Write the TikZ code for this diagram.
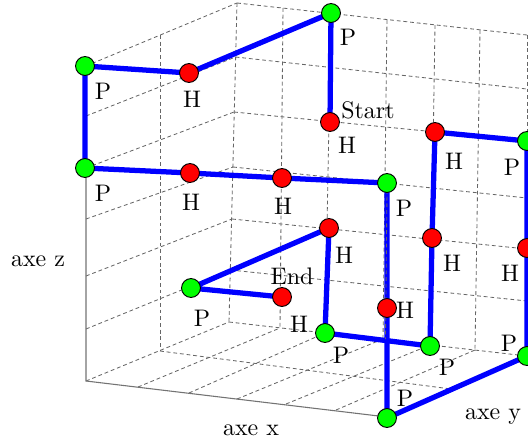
\documentclass[tikz,border=0pt]{standalone}
\begin{document}
\begin{tikzpicture}[x=0.418pt,y=-0.418pt,
  gridline/.style={draw=black!60, dash pattern=on 1.6pt off 1.2pt, line width=0.35pt},
  axisline/.style={draw=black!55, line width=0.45pt},
  chain/.style={draw=blue, line width=2.2pt, line join=round},
  hnode/.style={circle, fill=red, draw=black, line width=0.4pt, minimum size=7.9pt, inner sep=0pt},
  pnode/.style={circle, fill=green, draw=black, line width=0.4pt, minimum size=7.9pt, inner sep=0pt},
  lbl/.style={inner sep=0pt, font=\normalsize}]
\useasboundingbox (0,0) rectangle (528,444);
\clip (0,0) rectangle (528,444);
% ---------------- left wall (x = 0)
\foreach \fy/\bx/\by in {381/229/322, 329/230.5/270, 276/232/219, 219/233/167, 168/234/112, 116/235.5/57, 66/237/3}
  \draw[gridline] (86,\fy) -- (\bx,\by);
\draw[gridline] (160,35) -- (160,351);
% ---------------- back wall (y = 2)
\foreach \tx/\ty/\bx/\by in {237/3/229/322, 283/8/280/328, 331/13/325/333, 387/20/383/339, 435/25/430/345, 480/30/475/350, 527/35/527/356}
  \draw[gridline] (\tx,\ty) -- (\bx,\by);
\foreach \lx/\ly/\ry in {229/322/356, 230.5/270/301, 232/219/249, 233/167/198, 234/112/141, 235.5/57/89, 237/3/35}
  \draw[gridline] (\lx,\ly) -- (527,\ry);
% ---------------- floor (z = 0)
\foreach \fx/\fy/\bx/\by in {138/387/280/328, 189/393/325/333, 237/399/383/339, 286/404/430/345, 336/410/475/350}
  \draw[gridline] (\fx,\fy) -- (\bx,\by);
\draw[gridline] (160,351) -- (451,389);
% ---------------- axes
\draw[axisline] (86,66) -- (86,381) -- (387,417) -- (527,356);
% ---------------- chain
\coordinate (c1) at (330,122);
\coordinate (c2) at (331,13);
\coordinate (c3) at (189,73);
\coordinate (c4) at (85,66);
\coordinate (c5) at (85,168);
\coordinate (c6) at (190,173);
\coordinate (c7) at (282,178);
\coordinate (c8) at (387,183);
\coordinate (c9) at (387,308);
\coordinate (c10) at (387,418);
\coordinate (c11) at (527,356);
\coordinate (c12) at (527,248);
\coordinate (c13) at (527,141);
\coordinate (c14) at (435,132);
\coordinate (c15) at (432,238);
\coordinate (c16) at (430,346);
\coordinate (c17) at (325,333);
\coordinate (c18) at (329,228);
\coordinate (c19) at (191,288);
\coordinate (c20) at (282,297);
\draw[chain] (c1) -- (c2) -- (c3) -- (c4) -- (c5) -- (c6) -- (c7) -- (c8) -- (c9) -- (c10)
  -- (c11) -- (c12) -- (c13) -- (c14) -- (c15) -- (c16) -- (c17) -- (c18) -- (c19) -- (c20);
\draw[gridline] (387,190) -- (385.5,339);
% ---------------- residues
\node[hnode] (n1) at (c1) {};
\node[pnode] (n2) at (c2) {};
\node[hnode] (n3) at (c3) {};
\node[pnode] (n4) at (c4) {};
\node[pnode] (n5) at (c5) {};
\node[hnode] (n6) at (c6) {};
\node[hnode] (n7) at (c7) {};
\node[pnode] (n8) at (c8) {};
\node[hnode] (n9) at (c9) {};
\node[pnode] (n10) at (c10) {};
\node[pnode] (n11) at (c11) {};
\node[hnode] (n12) at (c12) {};
\node[pnode] (n13) at (c13) {};
\node[hnode] (n14) at (c14) {};
\node[hnode] (n15) at (c15) {};
\node[pnode] (n16) at (c16) {};
\node[pnode] (n17) at (c17) {};
\node[hnode] (n18) at (c18) {};
\node[pnode] (n19) at (c19) {};
\node[hnode] (n20) at (c20) {};
% ---------------- labels
\node[lbl] (l1) at (347,145) {H};
\node[lbl] (ls) at (368,110) {Start};
\node[lbl] (l2) at (348,37) {P};
\node[lbl] (l3) at (192,99) {H};
\node[lbl] (l4) at (103,91) {P};
\node[lbl] (l5) at (103,193) {P};
\node[lbl] (l6) at (191,202) {H};
\node[lbl] (l7) at (283,206) {H};
\node[lbl] (l8) at (404,208) {P};
\node[lbl] (l9) at (405,310) {H};
\node[lbl] (l10) at (405,398) {P};
\node[lbl] (l11) at (509,343) {P};
\node[lbl] (l12) at (510,273) {H};
\node[lbl] (l13) at (512,167) {P};
\node[lbl] (l14) at (454,161) {H};
\node[lbl] (l15) at (452,263) {H};
\node[lbl] (l16) at (447,367) {P};
\node[lbl] (l17) at (341,355) {P};
\node[lbl] (l18) at (344,255) {H};
\node[lbl] (l19) at (202,318) {P};
\node[lbl] (l20) at (299,324) {H};
\node[lbl] (le) at (292,276) {End};
\node[lbl] (ax) at (251,430) {axe x};
\node[lbl] (ay) at (493,417) {axe y};
\node[lbl] (az) at (38,261) {axe z};
\end{tikzpicture}
\end{document}
